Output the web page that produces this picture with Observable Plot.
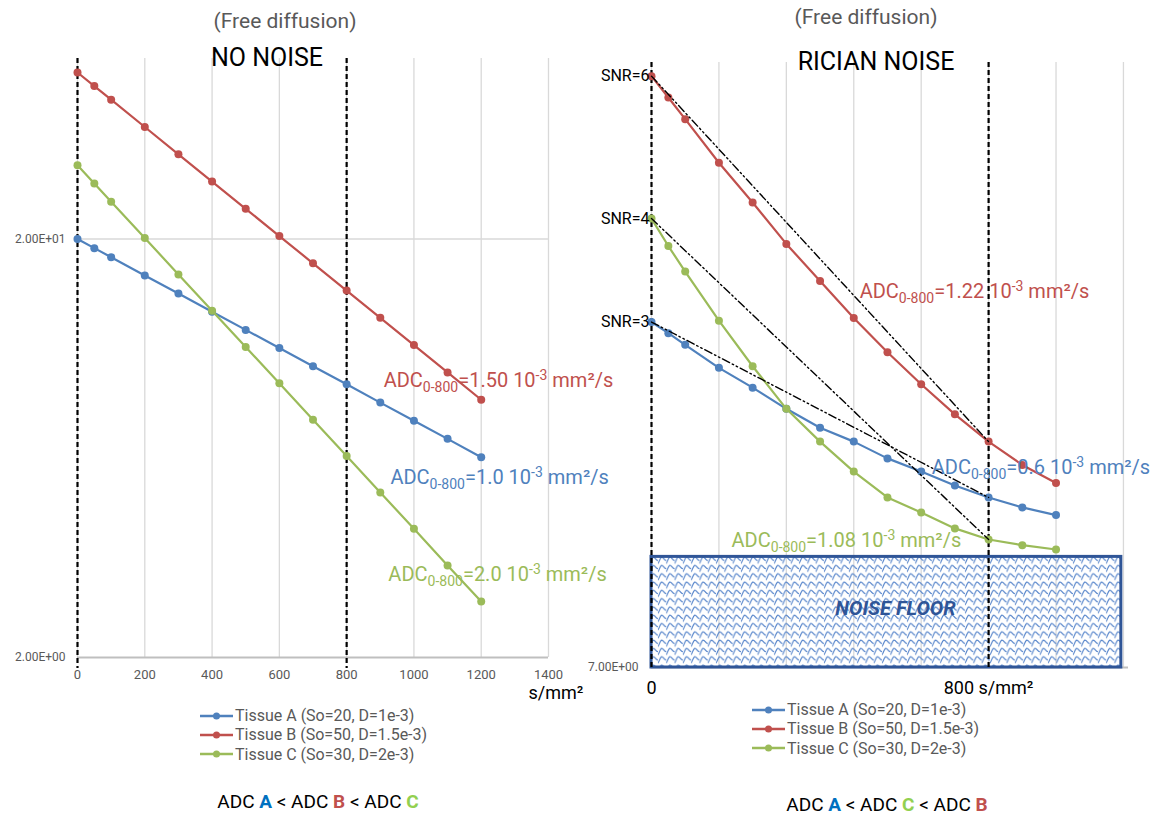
<!DOCTYPE html>
<html><head><meta charset="utf-8">
<script src="https://cdn.jsdelivr.net/npm/d3@7"></script>
<script src="https://cdn.jsdelivr.net/npm/@observablehq/plot@0.6"></script>
<style>
body{margin:0;background:#fff;font-family:Roboto,"Noto Sans",sans-serif;}
#wrap{position:relative;width:1150px;height:818px;overflow:hidden;background:#fff;}
.abs{position:absolute;white-space:nowrap;line-height:1.1;}
.c{transform:translate(-50%,-50%);}
.plot{position:absolute;top:0;}
.lg{position:absolute;font-size:16px;color:#595959;}
.lg div{height:19.3px;display:flex;align-items:center;white-space:nowrap;}
.lg svg{margin-right:2px;}
</style></head><body><div id="wrap"></div>
<script>
// ---------- data ----------
const tissues = ["Tissue A (So=20, D=1e-3)", "Tissue B (So=50, D=1.5e-3)", "Tissue C (So=30, D=2e-3)"];
const colors = ["#4F81BD", "#C0504D", "#9BBB59"];

const bLeft = [0,50,100,200,300,400,500,600,700,800,900,1000,1100,1200];
const leftA = [20,19.02,18.10,16.37,14.82,13.41,12.13,10.98,9.93,8.99,8.13,7.36,6.66,6.02];
const leftB = [50,46.39,43.04,37.04,31.88,27.44,23.62,20.33,17.50,15.06,12.96,11.16,9.60,8.26];
const leftC = [30,27.15,24.56,20.11,16.46,13.48,11.04,9.04,7.40,6.06,4.96,4.06,3.32,2.72];

const bRight = [0,40,80,160,240,320,400,480,560,640,720,800,880,960];
const rightA = [22.0,21.2,20.4,18.9,17.7,16.5,15.5,14.8,14.0,13.4,12.8,12.3,11.9,11.6];
const rightB = [49.7,46.3,43.1,37.3,32.7,28.5,25.2,22.3,19.9,17.9,16.2,14.8,13.7,12.9];
const rightC = [31.0,28.3,26.0,22.1,19.0,16.5,14.8,13.4,12.3,11.7,11.1,10.7,10.5,10.35];

const xTicksLeft = [0,200,400,600,800,1000,1200,1400];
const yTicksLeft = [2,20];
const yTickLabelsLeft = ["2.00E+00","2.00E+01"];
const xGridRight = [0,160,320,480,640,800,960,1120];
const xTicksRight = [0,800];
const xTickLabelsRight = ["0","800 s/mm²"];
const yTicksRight = [7];
const yTickLabelsRight = ["7.00E+00"];
const refB = [0,800];

const annotLeft = [
  {x:910, y:9.18, t:"ADC_{0-800}=1.50 10^{-3} mm²/s", c:colors[1]},
  {x:930, y:5.37, t:"ADC_{0-800}=1.0 10^{-3} mm²/s", c:colors[0]},
  {x:924, y:3.15, t:"ADC_{0-800}=2.0 10^{-3} mm²/s", c:colors[2]}
];
const annotRight = [
  {x:494, y:24.3, t:"ADC_{0-800}=1.22 10^{-3} mm²/s", c:colors[1]},
  {x:665, y:13.6, t:"ADC_{0-800}=0.6 10^{-3} mm²/s", c:colors[0]},
  {x:190, y:10.66, t:"ADC_{0-800}=1.08 10^{-3} mm²/s", c:colors[2]}
];
const snrLabels = ["SNR=3","SNR=6","SNR=4"];
const noiseFloor = [{x1:0, x2:1115, y1:7, y2:10.1}];
const noiseLabel = [{x:579, y:8.5, t:"NOISE FLOOR"}];

// ---------- helpers ----------
const FONT = 'Roboto, "Noto Sans", sans-serif';
const ns = "http://www.w3.org/2000/svg";
function rows(bs, vs){ return bs.map((b,i)=>({b, v:vs[i]})); }
function seriesMarks(bs, list){
  const m = [];
  list.forEach((vs,k)=>{
    const r = rows(bs, vs);
    m.push(Plot.line(r, {x:"b", y:"v", stroke:colors[k], strokeWidth:2.2}));
    m.push(Plot.dot(r, {x:"b", y:"v", fill:colors[k], r:4}));
  });
  return m;
}
function richify(svg){
  svg.querySelectorAll("text").forEach(t=>{
    const s = t.textContent;
    if(!s.includes("_{")) return;
    t.textContent = "";
    let off = 0;
    s.split(/(_\{[^}]*\}|\^\{[^}]*\})/).forEach(part=>{
      if(!part) return;
      const ts = document.createElementNS(ns,"tspan");
      let target = 0, txt = part;
      if(part.startsWith("_{")){ target = 5; txt = part.slice(2,-1); ts.style.fontSize = "0.7em"; }
      else if(part.startsWith("^{")){ target = -7; txt = part.slice(2,-1); ts.style.fontSize = "0.7em"; }
      ts.setAttribute("dy", String(target - off));
      off = target;
      ts.textContent = txt;
      t.appendChild(ts);
    });
  });
}

// ---------- left plot ----------
const left = Plot.plot({
  width: 600, height: 700,
  marginLeft: 77, marginRight: 52, marginTop: 58, marginBottom: 43,
  style: {background:"transparent", overflow:"visible", fontFamily: FONT},
  x: {domain:[0,1400], label:null},
  y: {type:"log", domain:[2,54], label:null},
  color: {type:"identity"},
  marks: [
    Plot.gridX(xTicksLeft, {stroke:"#D9D9D9", strokeOpacity:1, strokeWidth:1.3}),
    Plot.gridY([20], {stroke:"#D9D9D9", strokeOpacity:1, strokeWidth:1.3}),
    Plot.ruleY([2], {stroke:"#BFBFBF", strokeWidth:2}),
    Plot.axisX(xTicksLeft, {tickSize:0, tickPadding:12, fontSize:13, fill:"#595959", label:null,
      tickFormat: d => String(d)}),
    Plot.axisY(yTicksLeft, {tickSize:0, tickPadding:12, fontSize:12, fill:"#595959", label:null,
      tickFormat: d => yTickLabelsLeft[yTicksLeft.indexOf(d)]}),
    Plot.ruleX(refB, {stroke:"#000", strokeWidth:2.2, strokeDasharray:"5,3", insetBottom:-11}),
    ...seriesMarks(bLeft, [leftA, leftB, leftC]),
    Plot.text(annotLeft, {x:"x", y:"y", text:"t", fill:"c", textAnchor:"start", fontSize:20})
  ]
});
richify(left);

// ---------- right plot ----------
const idx800 = bRight.indexOf(800);
const fits = [rightA, rightB, rightC].map(vs => [{b:0, v:vs[0]}, {b:800, v:vs[idx800]}]);
const snrData = [rightA, rightB, rightC].map((vs,k)=>({v:vs[0], t:snrLabels[k]}));

const right = Plot.plot({
  width: 575, height: 700,
  marginLeft: 76, marginRight: 22, marginTop: 62, marginBottom: 33,
  style: {background:"transparent", overflow:"visible", fontFamily: FONT},
  x: {domain:[0,1132], label:null},
  y: {type:"log", domain:[7,52], label:null},
  color: {type:"identity"},
  marks: [
    Plot.gridX(xGridRight, {stroke:"#D9D9D9", strokeOpacity:1, strokeWidth:1.3}),
    Plot.ruleY([7], {stroke:"#BFBFBF", strokeWidth:2}),
    Plot.rect(noiseFloor, {x1:"x1", x2:"x2", y1:"y1", y2:"y2", fill:"url(#wave)", stroke:"#2F5597", strokeWidth:3}),
    Plot.text(noiseLabel, {x:"x", y:"y", text:"t", fill:"#2F5597", fontSize:20, fontWeight:"bold", fontStyle:"italic"}),
    Plot.axisX(xTicksRight, {tickSize:0, tickPadding:14, fontSize:18, fill:"#000", label:null,
      tickFormat: d => xTickLabelsRight[xTicksRight.indexOf(d)]}),
    Plot.axisY(yTicksRight, {tickSize:0, tickPadding:13, fontSize:12, fill:"#595959", label:null,
      tickFormat: d => yTickLabelsRight[yTicksRight.indexOf(d)]}),
    Plot.ruleX(refB, {stroke:"#000", strokeWidth:2.2, strokeDasharray:"5,3", insetBottom:-3}),
    ...seriesMarks(bRight, [rightA, rightB, rightC]),
    ...fits.map(f => Plot.line(f, {x:"b", y:"v", stroke:"#000", strokeWidth:1.4, strokeDasharray:"8,3,1.5,3,1.5,3"})),
    Plot.text(snrData, {x:()=>0, y:"v", text:"t", textAnchor:"end", dx:-2, fontSize:16, fill:"#000"}),
    Plot.text(annotRight, {x:"x", y:"y", text:"t", fill:"c", textAnchor:"start", fontSize:20})
  ]
});
richify(right);
const defs = document.createElementNS(ns, "defs");
defs.innerHTML = `<pattern id="wave" patternUnits="userSpaceOnUse" width="8.3" height="8.3">
  <path d="M-0.5,7.6 C1.2,7.6 1.6,1.2 3.6,1.0 C5.6,0.8 5.8,4.6 8.8,4.4" fill="none" stroke="#4F7FC8" stroke-width="1.1"/>
  <path d="M-0.5,-0.7 C1.2,-0.7 1.6,-7.1 3.6,-7.3 M3.6,9.3 C5.6,9.1 5.8,12.9 8.8,12.7" fill="none" stroke="#4F7FC8" stroke-width="1.1"/>
  <path d="M8.8,4.4 L8.8,7.6" fill="none" stroke="#4F7FC8" stroke-width="1.1"/>
</pattern>`;
right.prepend(defs);

// ---------- layout ----------
const wrap = document.getElementById("wrap");
left.classList.add("plot"); left.style.left = "0px";
right.classList.add("plot"); right.style.left = "575px";
wrap.appendChild(left);
wrap.appendChild(right);

function addText(html, x, y, css){
  const d = document.createElement("div");
  d.className = "abs c";
  d.style.left = x + "px"; d.style.top = y + "px";
  d.style.cssText += css;
  d.innerHTML = html;
  wrap.appendChild(d);
}
addText("(Free diffusion)", 285, 22, "font-size:21px;color:#595959;");
addText("(Free diffusion)", 866, 18, "font-size:21px;color:#595959;");
addText("NO NOISE", 267, 58, "font-size:25px;color:#000;");
addText("RICIAN NOISE", 876, 62, "font-size:25px;color:#000;");
addText("s/mm²", 556, 693, "font-size:18px;color:#000;");

function addLegend(x, y){
  const d = document.createElement("div");
  d.className = "lg";
  d.style.left = x + "px"; d.style.top = y + "px";
  tissues.forEach((t,k)=>{
    const r = document.createElement("div");
    r.innerHTML = `<svg width="33" height="10"><line x1="0" x2="33" y1="5" y2="5" stroke="${colors[k]}" stroke-width="2.5"/><circle cx="16.5" cy="5" r="3.5" fill="${colors[k]}"/></svg><span>${t}</span>`;
    d.appendChild(r);
  });
  wrap.appendChild(d);
}
addLegend(200, 706);
addLegend(752, 700);

const cA = '<span style="color:#0070C0;font-weight:bold">A</span>';
const cB = '<span style="color:#C0504D;font-weight:bold">B</span>';
const cC = '<span style="color:#92D050;font-weight:bold">C</span>';
addText(`ADC ${cA} &lt; ADC ${cB} &lt; ADC ${cC}`, 318, 802, "font-size:19px;color:#000;");
addText(`ADC ${cA} &lt; ADC ${cC} &lt; ADC ${cB}`, 887, 805, "font-size:19px;color:#000;");
</script></body></html>
